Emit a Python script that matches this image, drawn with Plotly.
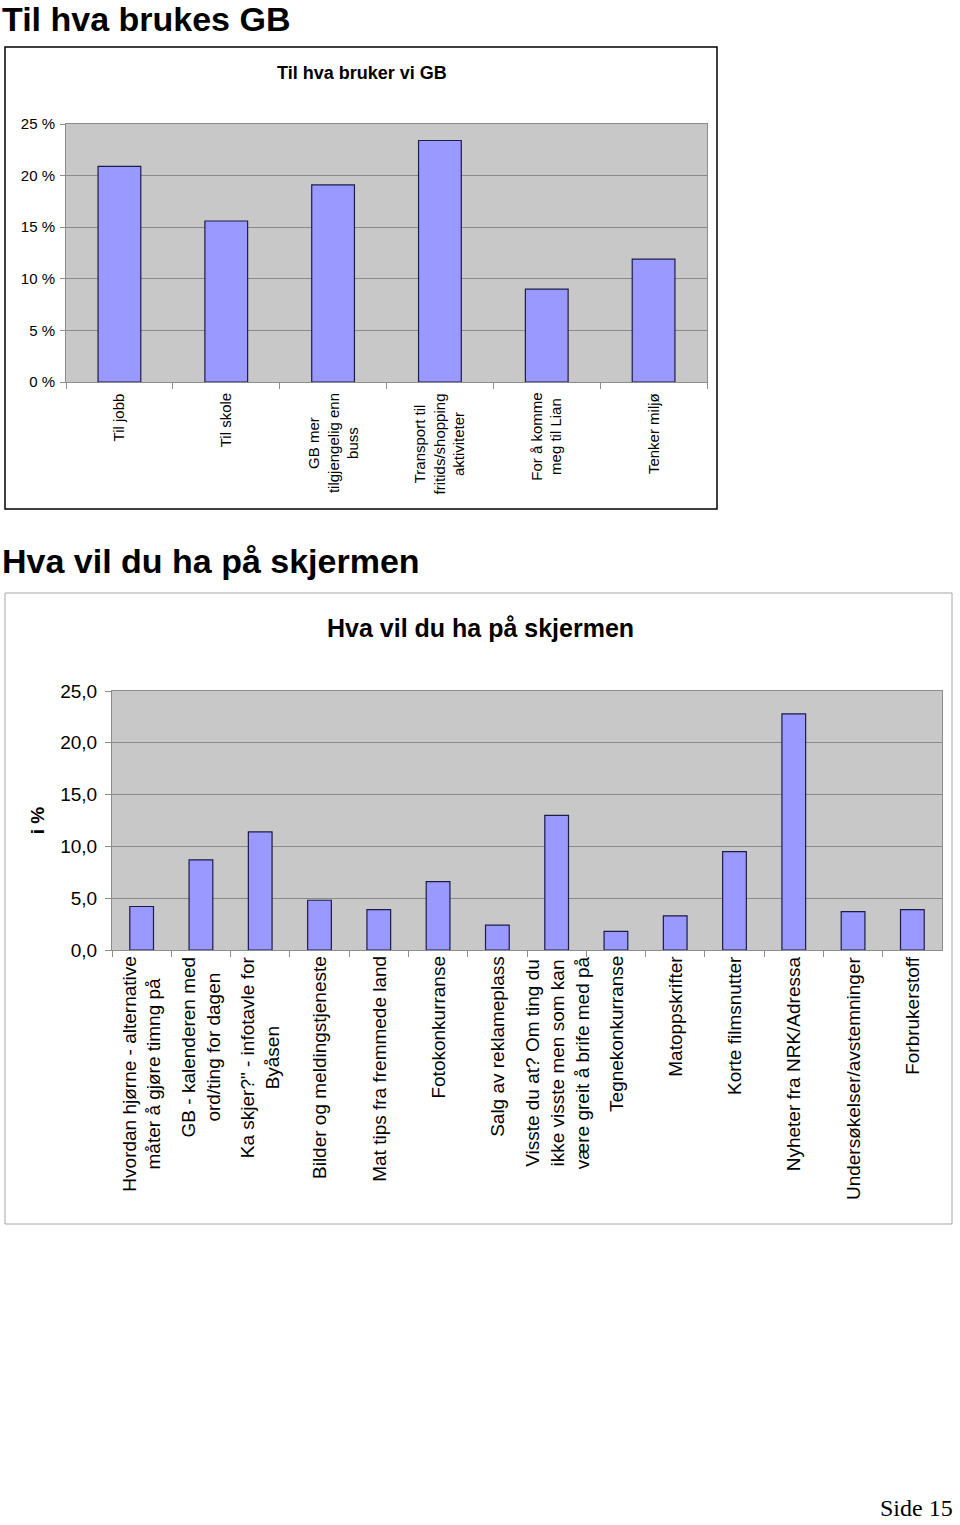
import plotly.graph_objects as go

# ---------- data ----------
section_title_1 = "Til hva brukes GB"
chart_title_1 = "Til hva bruker vi GB"
categories_1 = ["Til jobb", "Til skole", "GB mer tilgjengelig enn buss",
                "Transport til fritids/shopping aktiviteter",
                "For å komme meg til Lian", "Tenker miljø"]
tick_labels_1 = ["Til jobb", "Til skole", "GB mer<br>tilgjengelig enn<br>buss",
                 "Transport til<br>fritids/shopping<br>aktiviteter",
                 "For å komme<br>meg til Lian", "Tenker miljø"]
values_1 = [20.9, 15.6, 19.1, 23.4, 9.0, 11.9]
y_ticks_1 = [0, 5, 10, 15, 20, 25]
y_tick_labels_1 = ["0 %", "5 %", "10 %", "15 %", "20 %", "25 %"]

section_title_2 = "Hva vil du ha på skjermen"
chart_title_2 = "Hva vil du ha på skjermen"
y_title_2 = "i %"
categories_2 = ["Hvordan hjørne - alternative måter å gjøre timng på",
                "GB - kalenderen med ord/ting for dagen",
                "Ka skjer?\" - infotavle for Byåsen",
                "Bilder og meldingstjeneste",
                "Mat tips fra fremmede land",
                "Fotokonkurranse",
                "Salg av reklameplass",
                "Visste du at? Om ting du ikke visste men som kan være greit å brife med på",
                "Tegnekonkurranse",
                "Matoppskrifter",
                "Korte filmsnutter",
                "Nyheter fra NRK/Adressa",
                "Undersøkelser/avstemninger",
                "Forbrukerstoff"]
tick_labels_2 = ["Hvordan hjørne - alternative<br>måter å gjøre timng på",
                 "GB - kalenderen med<br>ord/ting for dagen",
                 "Ka skjer?\" - infotavle for<br>Byåsen",
                 "Bilder og meldingstjeneste",
                 "Mat tips fra fremmede land",
                 "Fotokonkurranse",
                 "Salg av reklameplass",
                 "Visste du at? Om ting du<br>ikke visste men som kan<br>være greit å brife med på",
                 "Tegnekonkurranse",
                 "Matoppskrifter",
                 "Korte filmsnutter",
                 "Nyheter fra NRK/Adressa",
                 "Undersøkelser/avstemninger",
                 "Forbrukerstoff"]
values_2 = [4.2, 8.7, 11.4, 4.8, 3.9, 6.6, 2.4, 13.0, 1.8, 3.3, 9.5, 22.8, 3.7, 3.9]
y_ticks_2 = [0, 5, 10, 15, 20, 25]
y_tick_labels_2 = ["0,0", "5,0", "10,0", "15,0", "20,0", "25,0"]

page_label = "Side 15"

# ---------- layout helpers ----------
W, H = 960, 1525
def px(x):
    return x / W
def py(y):
    return 1 - y / H

FONT = "Liberation Sans, Arial, sans-serif"
BAR_COLOR = "#9999ff"
BAR_LINE = "#1c1c48"
GRID = "#8a8a8a"
AXIS = "#8c8c8c"
PLOT_BG = "#c8c8c8"

fig = go.Figure()
fig.add_trace(go.Bar(x=categories_1, y=values_1, xaxis="x", yaxis="y",
                     marker=dict(color=BAR_COLOR, line=dict(color=BAR_LINE, width=1.2)),
                     hoverinfo="x+y"))
fig.add_trace(go.Bar(x=categories_2, y=values_2, xaxis="x2", yaxis="y2",
                     marker=dict(color=BAR_COLOR, line=dict(color=BAR_LINE, width=1.2)),
                     hoverinfo="x+y"))

# plot-area geometry (pixels)
p1 = dict(x0=66, x1=707, y0=124, y1=382)
p2 = dict(x0=112, x1=942, y0=691, y1=950)

axis_common = dict(showgrid=False, zeroline=False, showline=True, linecolor=AXIS,
                   linewidth=1, mirror=True, ticks="outside", tickcolor=AXIS, ticklen=6,
                   tickson="boundaries", showticklabels=False, fixedrange=True,
                   automargin=False)

fig.update_layout(
    template="none",
    width=W, height=H,
    autosize=False,
    margin=dict(l=0, r=0, t=0, b=0, pad=0, autoexpand=False),
    paper_bgcolor="white",
    plot_bgcolor=PLOT_BG,
    showlegend=False,
    bargap=0.6,
    font=dict(family=FONT, color="black"),
    xaxis=dict(domain=[px(p1["x0"]), px(p1["x1"])], anchor="y",
               categoryorder="array", categoryarray=categories_1, **axis_common),
    yaxis=dict(domain=[py(p1["y1"]), py(p1["y0"])], anchor="x", range=[0, 25],
               tickvals=y_ticks_1, ticktext=y_tick_labels_1,
               showgrid=True, gridcolor=GRID, gridwidth=1, zeroline=False,
               showline=True, mirror=True, linecolor=AXIS, ticks="outside", tickcolor=AXIS,
               ticklen=5, ticklabelstandoff=2, tickfont=dict(size=15), fixedrange=True,
               automargin=False),
    xaxis2=dict(domain=[px(p2["x0"]), px(p2["x1"])], anchor="y2",
                categoryorder="array", categoryarray=categories_2, **axis_common),
    yaxis2=dict(domain=[py(p2["y1"]), py(p2["y0"])], anchor="x2", range=[0, 25],
                tickvals=y_ticks_2, ticktext=y_tick_labels_2,
                showgrid=True, gridcolor=GRID, gridwidth=1, zeroline=False,
                showline=True, mirror=True, linecolor=AXIS, ticks="outside", tickcolor=AXIS,
                ticklen=6, ticklabelstandoff=4, tickfont=dict(size=19), fixedrange=True,
                automargin=False,
                title=dict(text="<b>" + y_title_2 + "</b>", font=dict(size=19), standoff=10)),
)

# page boxes
fig.add_shape(type="rect", xref="paper", yref="paper",
              x0=px(5), x1=px(717), y0=py(509), y1=py(47),
              line=dict(color="black", width=1.5), fillcolor="rgba(0,0,0,0)", layer="below")
fig.add_shape(type="rect", xref="paper", yref="paper",
              x0=px(5), x1=px(952), y0=py(1224), y1=py(593),
              line=dict(color="#a6a6a6", width=1), fillcolor="rgba(0,0,0,0)", layer="below")

ann = []
# section titles
ann.append(dict(text="<b>" + section_title_1 + "</b>", x=px(0), y=py(19), xref="paper", yref="paper",
                xanchor="left", yanchor="middle", showarrow=False, font=dict(size=34)))
ann.append(dict(text="<b>" + section_title_2 + "</b>", x=px(0), y=py(561), xref="paper", yref="paper",
                xanchor="left", yanchor="middle", showarrow=False, font=dict(size=34)))
# chart titles
ann.append(dict(text="<b>" + chart_title_1 + "</b>", x=px(362), y=py(73), xref="paper", yref="paper",
                xanchor="center", yanchor="middle", showarrow=False, font=dict(size=18)))
ann.append(dict(text="<b>" + chart_title_2 + "</b>", x=px(480), y=py(628), xref="paper", yref="paper",
                xanchor="center", yanchor="middle", showarrow=False, font=dict(size=25)))
# category labels (rotated, centred lines, top-aligned under the axis)
for c, t in zip(categories_1, tick_labels_1):
    ann.append(dict(text=t, x=c, xref="x", y=py(p1["y1"]), yref="paper", yshift=-9,
                    textangle=-90, xanchor="center", yanchor="top", align="center",
                    showarrow=False, font=dict(size=15)))
for c, t in zip(categories_2, tick_labels_2):
    ann.append(dict(text=t, x=c, xref="x2", y=py(p2["y1"]), yref="paper", yshift=-4,
                    textangle=-90, xanchor="center", yanchor="top", align="center",
                    showarrow=False, font=dict(size=19)))
# page number
ann.append(dict(text=page_label, x=px(955), y=py(1508), xref="paper", yref="paper",
                xanchor="right", yanchor="middle", showarrow=False,
                font=dict(size=24, family="Liberation Serif, Times New Roman, serif")))
fig.update_layout(annotations=ann)

fig.write_html("out.html", config={"displayModeBar": False},
               post_script="document.body.style.margin='0';document.body.style.overflow='hidden';")
